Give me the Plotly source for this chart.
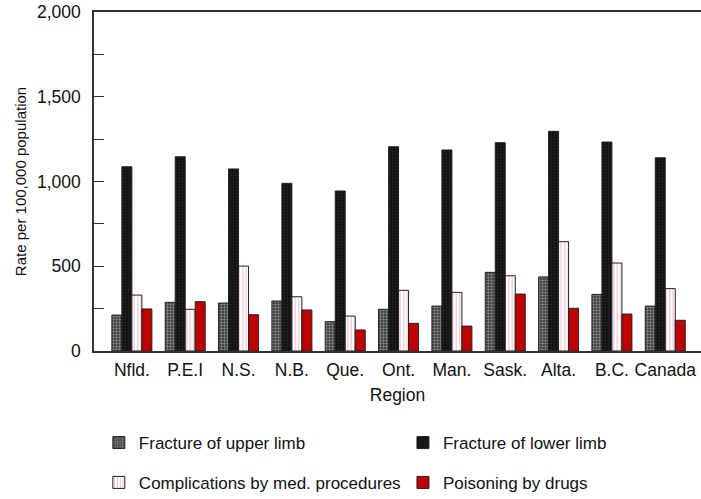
import plotly.graph_objects as go

regions = ["Nfld.", "P.E.I", "N.S.", "N.B.", "Que.", "Ont.", "Man.", "Sask.", "Alta.", "B.C.", "Canada"]
upper_limb = [212, 287, 283, 295, 173, 246, 265, 464, 437, 334, 265]
lower_limb = [1087, 1146, 1074, 989, 944, 1205, 1186, 1229, 1296, 1233, 1140]
complications = [330, 246, 501, 320, 206, 358, 346, 444, 645, 519, 368]
poisoning = [248, 291, 214, 242, 124, 163, 147, 336, 252, 218, 181]

names = ["Fracture of upper limb", "Fracture of lower limb",
         "Complications by med. procedures", "Poisoning by drugs"]

FONT = "Liberation Sans, Arial, sans-serif"

fig = go.Figure()
fig.add_trace(go.Bar(
    x=regions, y=upper_limb, name=names[0], legend="legend",
    marker=dict(color="#444", line=dict(color="#222", width=1),
                pattern=dict(shape="+", bgcolor="#444", fgcolor="#d8d8d8", size=3, solidity=0.35)),
))
fig.add_trace(go.Bar(
    x=regions, y=lower_limb, name=names[1], legend="legend2",
    marker=dict(color="#111", line=dict(color="#222", width=1),
                pattern=dict(shape=".", bgcolor="#111", fgcolor="#3a3a3a", size=3, solidity=0.3)),
))
fig.add_trace(go.Bar(
    x=regions, y=complications, name=names[2], legend="legend3",
    marker=dict(color="white", line=dict(color="#222", width=1),
                pattern=dict(shape="|", bgcolor="white", fgcolor="#e0709a", size=3.5, solidity=0.3)),
))
fig.add_trace(go.Bar(
    x=regions, y=poisoning, name=names[3], legend="legend4",
    marker=dict(color="#c00000", line=dict(color="#222", width=1)),
))

row1 = -0.2714
row2 = -0.389
col1 = 0.008
col2 = 0.509
leg_common = dict(orientation="h", xanchor="left", yanchor="middle",
                  font=dict(family=FONT, size=17, color="#111"), bgcolor="rgba(0,0,0,0)")

fig.update_layout(
    width=701, height=499,
    margin=dict(l=94, r=0, t=12, b=148, autoexpand=False),
    paper_bgcolor="white", plot_bgcolor="white",
    barmode="group", bargap=0.25, bargroupgap=0,
    font=dict(family=FONT, size=17, color="#111"),
    showlegend=True,
    legend=dict(x=col1, y=row1, **leg_common),
    legend2=dict(x=col2, y=row1, **leg_common),
    legend3=dict(x=col1, y=row2, **leg_common),
    legend4=dict(x=col2, y=row2, **leg_common),
    xaxis=dict(
        range=[-0.71, 10.67], showline=True, linecolor="#333", linewidth=1.5,
        mirror=True, ticks="", showgrid=False, zeroline=False, automargin=False,
        title=dict(text="Region", font=dict(size=17.5), standoff=10),
        tickfont=dict(size=17.5), ticklabelstandoff=2,
    ),
    yaxis=dict(
        range=[0, 2000], showline=True, linecolor="#333", linewidth=1.5,
        ticks="inside", ticklen=10, tickcolor="#333", tickwidth=1,
        tickvals=[0, 500, 1000, 1500, 2000], tickformat=",",
        minor=dict(tickvals=[250, 750, 1250, 1750], ticks="inside", ticklen=10, tickcolor="#333"),
        showgrid=False, zeroline=False, automargin=False,
        title=dict(text="Rate per 100,000 population", font=dict(size=15), standoff=7),
        tickfont=dict(size=17.5), ticklabelstandoff=8,
    ),
)

fig.write_html("out.html", config={"displayModeBar": False},
               post_script="document.body.style.margin='0px';")
